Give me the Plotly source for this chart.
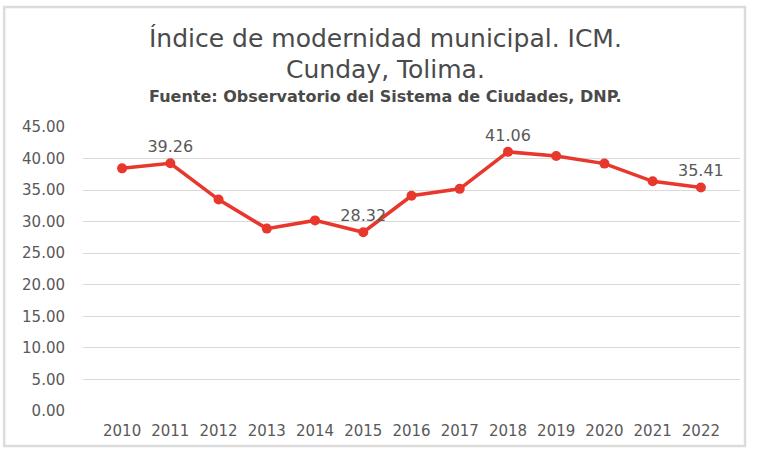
import plotly.graph_objects as go

years = ['2010', '2011', '2012', '2013', '2014', '2015', '2016',
         '2017', '2018', '2019', '2020', '2021', '2022']
icm = [38.45, 39.26, 33.5, 28.9, 30.2, 28.32, 34.1, 35.2, 41.06, 40.4, 39.2, 36.4, 35.41]
# only some points carry a label in the original
labels = ['', '39.26', '', '', '', '28.32', '', '', '41.06', '', '', '', '35.41']

grey = '#595959'
fnt = 'DejaVu Sans'

fig = go.Figure()
fig.add_trace(go.Scatter(
    x=years, y=icm,
    mode='lines+markers+text',
    text=labels, textposition='top center',
    textfont=dict(size=16, color=grey, family=fnt),
    line=dict(color='#E8372C', width=3.5),
    marker=dict(color='#E8372C', size=10),
    cliponaxis=False,
    showlegend=False,
))

fig.update_layout(
    width=759, height=452,
    paper_bgcolor='white', plot_bgcolor='white',
    margin=dict(l=83, r=19, t=127, b=41),
    font=dict(family=fnt, color=grey),
    xaxis=dict(
        showgrid=False, showline=False, zeroline=False,
        tickfont=dict(size=15, color=grey, family=fnt),
        ticklabelstandoff=9,
    ),
    yaxis=dict(
        range=[0, 45], dtick=5, tickformat='.2f',
        showgrid=True, gridcolor='#D9D9D9', gridwidth=1.3,
        zeroline=False, showline=False,
        tickfont=dict(size=15, color=grey, family=fnt),
        ticklabelstandoff=17,
    ),
)

# title lines, centred a little left of the plot area as in the original
fig.add_annotation(text='Índice de modernidad municipal. ICM.', xref='paper', yref='paper',
                   x=0.46, y=1.312, xanchor='center', yanchor='middle', showarrow=False,
                   font=dict(size=25, color='#4a4a4a', family=fnt))
fig.add_annotation(text='Cunday, Tolima.', xref='paper', yref='paper',
                   x=0.46, y=1.203, xanchor='center', yanchor='middle', showarrow=False,
                   font=dict(size=25, color='#4a4a4a', family=fnt))
fig.add_annotation(text='<b>Fuente: Observatorio del Sistema de Ciudades, DNP.</b>',
                   xref='paper', yref='paper',
                   x=0.46, y=1.108, xanchor='center', yanchor='middle', showarrow=False,
                   font=dict(size=16, color='#4a4a4a', family=fnt))

# light frame round the chart
fig.add_shape(type='rect', xref='paper', yref='paper',
              x0=-0.120, x1=1.0076, y0=-0.123, y1=1.4225,
              line=dict(color='#DCDCDC', width=2.5), layer='below')

fig.write_html("out.html", config={'displayModeBar': False},
               post_script="document.body.style.margin='0';")
